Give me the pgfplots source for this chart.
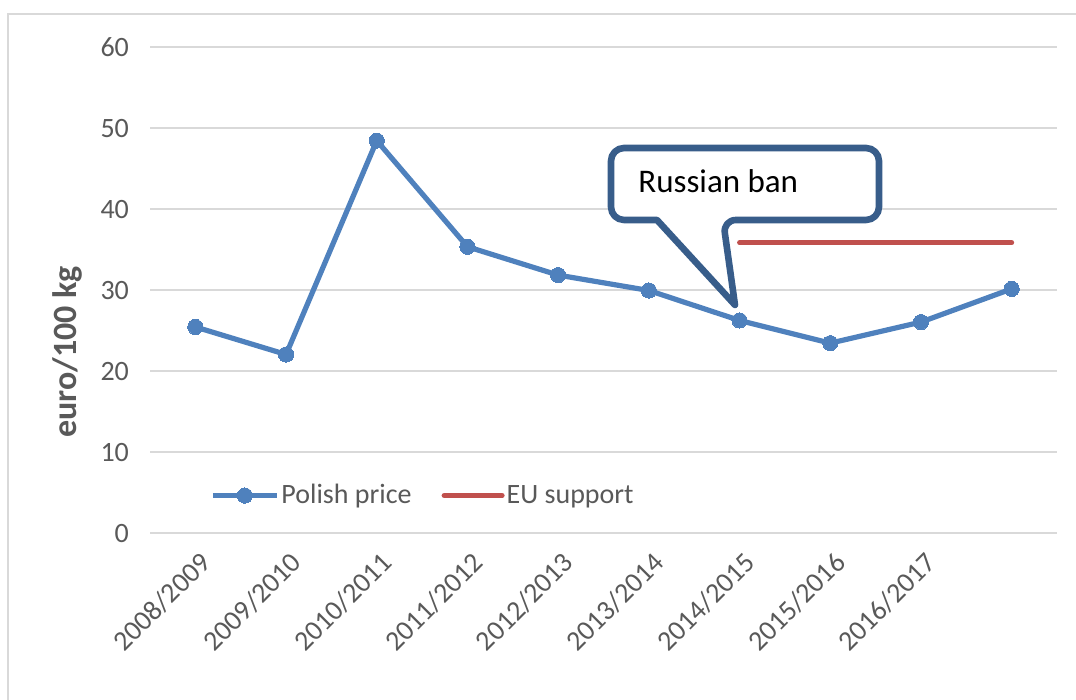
\documentclass[border=0pt]{standalone}
\usepackage{fontspec}
\setmainfont{Carlito}
\usepackage{pgfplots}
\pgfplotsset{compat=1.18}
\definecolor{textgray}{HTML}{595959}
\definecolor{gridgray}{HTML}{D9D9D9}
\definecolor{lineblue}{HTML}{4F81BD}
\definecolor{linered}{HTML}{C0504D}
\definecolor{calloutblue}{HTML}{385D8A}
\newcommand\tickfont{\fontsize{14}{17}\selectfont}
\pgfplotsset{
  polishleg/.style={legend image code/.code={\draw[mark repeat=2,mark phase=2,##1] plot coordinates {(0pt,0pt) (16pt,0pt) (32pt,0pt)};}},
  euleg/.style={legend image code/.code={\draw[##1] (1pt,0pt) -- (30pt,0pt);}},
}
\begin{document}
\begin{tikzpicture}
\useasboundingbox (0,0) rectangle (538pt,350pt);
\begin{scope}[x=0.5pt,y=-0.5pt,shift={(0pt,350pt)}]
  \draw[gridgray, line width=1.2pt] (8,700) -- (8,14) -- (1080,14);
  \node[rotate=90, text=textgray, font=\fontsize{17}{20}\selectfont\bfseries] at (67,352) {euro/100 kg};
\end{scope}
\begin{axis}[
  at={(75pt,83.25pt)}, anchor=south west,
  scale only axis, width=453.5pt, height=243pt,
  xmin=-0.5, xmax=9.5, ymin=0, ymax=60,
  ytick={0,10,...,60},
  xtick={0,...,8},
  xticklabels={2008/2009,2009/2010,2010/2011,2011/2012,2012/2013,2013/2014,2014/2015,2015/2016,2016/2017},
  ymajorgrids, grid style={draw=gridgray, line width=1pt},
  axis line style={draw=none},
  major tick length=0pt,
  tick label style={font=\tickfont, text=textgray},
  /pgf/number format/assume math mode=true,
  xticklabel style={xshift=1.5pt, yshift=-8.5pt, rotate=45, anchor=north east, inner sep=0pt},
  yticklabel style={xshift=-7pt},
  clip=false,
  legend columns=2,
  legend style={draw=none, fill=none, at={(0.066,0.078)}, anchor=west,
    font=\tickfont, text=textgray, inner sep=0pt,
    nodes={inner sep=1pt},
    /tikz/every even column/.append style={column sep=14pt}},
]
\addplot[lineblue, line width=2.6pt, mark=*, mark size=3.8pt, mark options={solid, fill=lineblue, draw=lineblue, line width=0pt}, polishleg]
  coordinates {(0,25.5) (1,22.1) (2,48.5) (3,35.4) (4,31.9) (5,30.0) (6,26.3) (7,23.5) (8,26.1) (9,30.2)};
\addlegendentry{Polish price}
\addplot[linered, line width=2.5pt, line cap=round, euleg]
  coordinates {(6,35.9) (7,35.9) (8,35.9) (9,35.9)};
\addlegendentry{EU support}
\end{axis}
\begin{scope}[x=0.5pt,y=-0.5pt,shift={(0pt,350pt)}]
  \draw[calloutblue, line width=3.3pt, fill=white, line join=round]
    (745,148) [rounded corners=6.5pt] -- (879,148) -- (879,220) -- (723,220) [sharp corners] -- (735,305) -- (657,220) [rounded corners=6.5pt] -- (611,220) -- (611,148) -- cycle;
  \node[anchor=base west, inner sep=0pt, font=\fontsize{16.5}{20}\selectfont] at (638,193) {Russian ban};
\end{scope}
\end{tikzpicture}
\end{document}
